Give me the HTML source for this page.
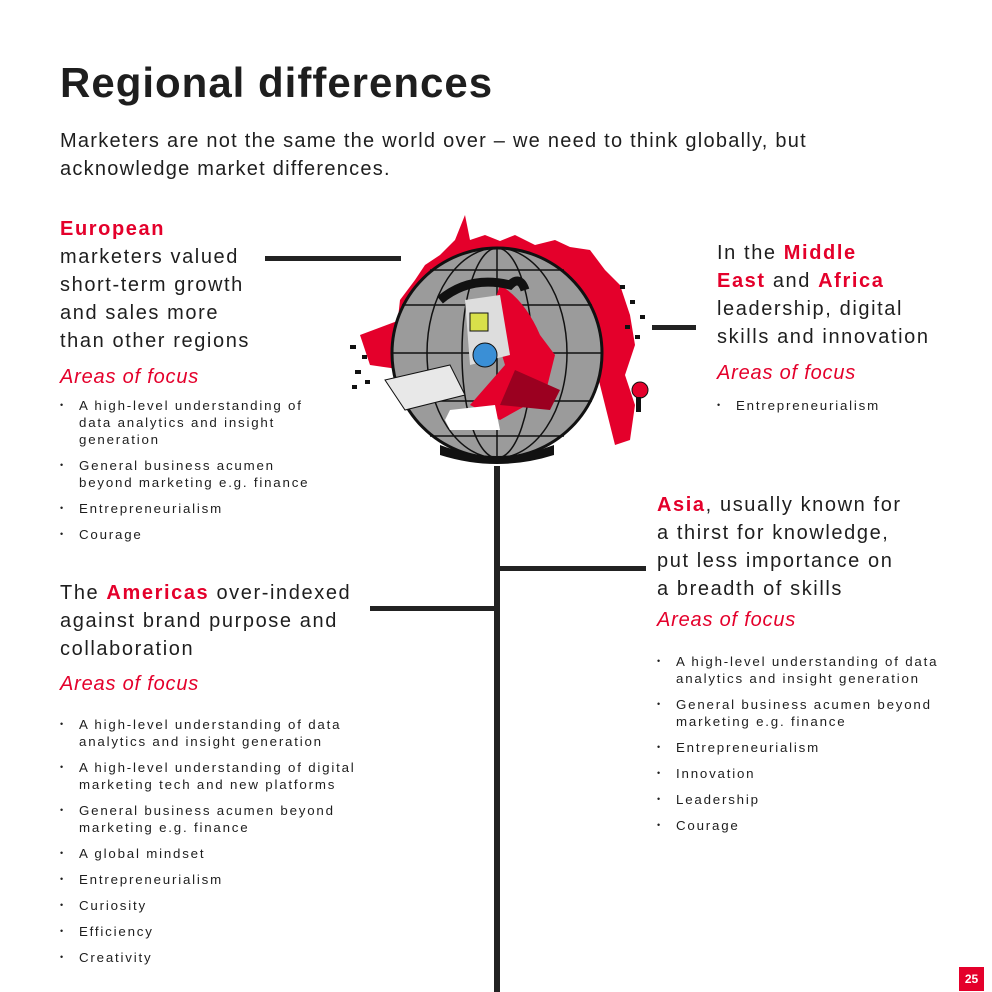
<!DOCTYPE html>
<html><head><meta charset="utf-8"><style>
*{margin:0;padding:0;box-sizing:border-box}
body{width:992px;height:992px;position:relative;background:#fff;font-family:"Liberation Sans",sans-serif;color:#1e1e1e;overflow:hidden}
.a{position:absolute}
h1{position:absolute;left:60px;top:59px;font-size:42px;font-weight:bold;letter-spacing:1px}
.sub{left:60px;top:127px;font-size:20px;line-height:28px;letter-spacing:1.25px;white-space:nowrap}
.big{font-size:20px;line-height:28px;letter-spacing:1.6px;white-space:nowrap}
.r{color:#e4002b;font-weight:bold}
.foc{font-size:20px;font-style:italic;color:#e4002b;line-height:28px;letter-spacing:0.8px}
ul{list-style:none}
li{position:relative;padding-left:19px;font-size:13.3px;line-height:17px;letter-spacing:1.8px;margin-bottom:9px}
li:before{content:"•";position:absolute;left:0;font-size:9px}
.bar{position:absolute;background:#222}
</style></head><body>
<h1>Regional differences</h1>
<div class="a sub">Marketers are not the same the world over – we need to think globally, but<br>acknowledge market differences.</div>

<div class="a big" style="left:60px;top:215px"><span class="r">European</span><br>marketers valued<br>short-term growth<br>and sales more<br>than other regions</div>
<div class="a foc" style="left:60px;top:363px">Areas of focus</div>
<ul class="a" style="left:60px;top:397px;width:250px">
<li>A high-level understanding of data analytics and insight generation</li>
<li>General business acumen beyond marketing e.g. finance</li>
<li>Entrepreneurialism</li>
<li>Courage</li></ul>

<div class="a big" style="left:717px;top:239px">In the <span class="r">Middle</span><br><span class="r">East</span> and <span class="r">Africa</span><br>leadership, digital<br>skills and innovation</div>
<div class="a foc" style="left:717px;top:359px">Areas of focus</div>
<ul class="a" style="left:717px;top:397px;width:260px"><li>Entrepreneurialism</li></ul>

<div class="a big" style="left:657px;top:491px"><span class="r">Asia</span>, usually known for<br>a thirst for knowledge,<br>put less importance on<br>a breadth of skills</div>
<div class="a foc" style="left:657px;top:606px">Areas of focus</div>
<ul class="a" style="left:657px;top:653px;width:300px">
<li>A high-level understanding of data analytics and insight generation</li>
<li>General business acumen beyond marketing e.g. finance</li>
<li>Entrepreneurialism</li><li>Innovation</li><li>Leadership</li><li>Courage</li></ul>

<div class="a big" style="left:60px;top:579px">The <span class="r">Americas</span> over-indexed<br>against brand purpose and<br>collaboration</div>
<div class="a foc" style="left:60px;top:670px">Areas of focus</div>
<ul class="a" style="left:60px;top:716px;width:310px">
<li>A high-level understanding of data analytics and insight generation</li>
<li>A high-level understanding of digital marketing tech and new platforms</li>
<li>General business acumen beyond marketing e.g. finance</li>
<li>A global mindset</li><li>Entrepreneurialism</li><li>Curiosity</li><li>Efficiency</li><li>Creativity</li></ul>

<div class="bar" style="left:265px;top:256px;width:136px;height:5px"></div>
<div class="bar" style="left:652px;top:325px;width:44px;height:5px"></div>
<div class="bar" style="left:494px;top:466px;width:6px;height:526px"></div>
<div class="bar" style="left:497px;top:566px;width:149px;height:5px"></div>
<div class="bar" style="left:370px;top:606px;width:127px;height:5px"></div>

<svg class="a" style="left:340px;top:205px" width="320" height="265" viewBox="0 0 320 265">
<g fill="#e4002b">
<path d="M55 140 L60 95 L75 75 L85 60 L100 50 L115 35 L125 10 L130 35 L145 30 L160 36 L175 30 L195 40 L215 35 L230 42 L250 45 L265 65 L280 80 L290 110 L295 140 L285 170 L295 200 L290 235 L275 240 L265 200 L245 120 L200 60 L120 60 Z"/>
<path d="M20 130 L60 115 L65 165 L30 160 Z"/>
</g>
<g fill="#111" font-size="6">
<rect x="10" y="140" width="6" height="4"/><rect x="22" y="150" width="5" height="4"/><rect x="15" y="165" width="6" height="4"/><rect x="25" y="175" width="5" height="4"/><rect x="12" y="180" width="5" height="4"/>
<rect x="280" y="80" width="5" height="4"/><rect x="290" y="95" width="5" height="4"/><rect x="300" y="110" width="5" height="4"/><rect x="285" y="120" width="5" height="4"/><rect x="295" y="130" width="5" height="4"/>
</g>
<circle cx="157" cy="148" r="105" fill="#9b9b9b" stroke="#111" stroke-width="3"/>
<g stroke="#111" stroke-width="1.5" fill="none">
<ellipse cx="157" cy="148" rx="35" ry="105"/><ellipse cx="157" cy="148" rx="70" ry="105"/>
<line x1="157" y1="43" x2="157" y2="253"/>
<line x1="52" y1="148" x2="262" y2="148"/><line x1="62" y1="100" x2="252" y2="100"/><line x1="62" y1="196" x2="252" y2="196"/>
<line x1="90" y1="65" x2="224" y2="65"/><line x1="90" y1="231" x2="224" y2="231"/>
</g>
<path d="M100 240 Q157 262 214 240 L214 250 Q157 268 100 250Z" fill="#111"/>
<path d="M160 80 Q185 95 200 130 L215 150 L205 190 L160 215 L130 200 L165 160 L150 110 Z" fill="#e4002b"/>
<path d="M125 95 L160 90 L170 150 L130 160Z" fill="#ddd"/>
<path d="M175 165 L220 185 L210 205 L160 200Z" fill="#9b0020"/>
<path d="M110 205 L155 200 L160 225 L110 225 L105 215Z" fill="#fff"/>
<path d="M45 175 L110 160 L125 190 L65 205Z" fill="#e8e8e8" stroke="#111"/>
<circle cx="145" cy="150" r="12" fill="#3a8fd6" stroke="#111"/>
<rect x="130" y="108" width="18" height="18" fill="#d8e04a" stroke="#111"/>
<path d="M100 95 Q130 70 170 80 Q180 70 185 85" stroke="#111" stroke-width="9" fill="none"/>
<circle cx="300" cy="185" r="8" fill="#e4002b" stroke="#111"/>
<rect x="296" y="192" width="5" height="15" fill="#111"/>
</svg>

<div class="a" style="left:959px;top:967px;width:25px;height:24px;background:#e4002b;color:#fff;font-size:12px;font-weight:bold;text-align:center;line-height:24px">25</div>
</body></html>
